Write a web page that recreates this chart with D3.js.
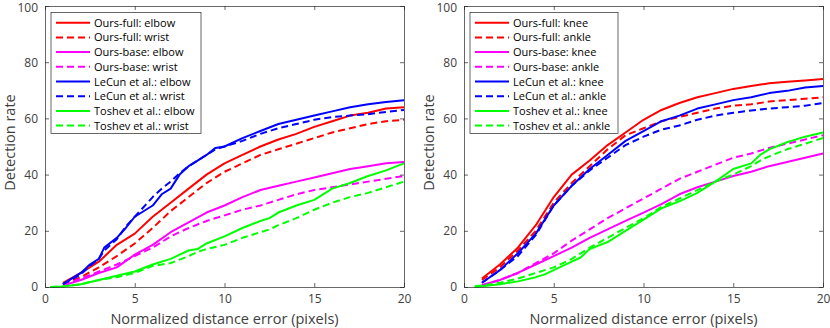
<!DOCTYPE html>
<html>
<head>
<meta charset="utf-8">
<script src="https://cdn.jsdelivr.net/npm/d3@7"></script>
<style>
  body { margin: 0; background: #fff; }
  svg { font-family: "Open Sans", "Liberation Sans", Arial, sans-serif; }
</style>
</head>
<body>
<div id="chart-container"></div>
<script>
// x positions (pixels of error)
let xGrid = [1, 2, 3, 4, 5, 6, 7, 8, 9, 10, 11, 12, 13, 14, 15, 16, 17, 18, 19, 20];
let xGridFine = [1, 2, 2.5, 3, 3.3, 4, 4.5, 5, 6, 6.5, 7, 7.5, 8, 8.5, 9, 9.5, 10, 11, 12, 13, 14, 15, 16, 17, 18, 19, 20];
let xToshevLeft = [0.3, 1, 2, 3, 4, 5, 6, 7, 8, 8.5, 9, 10, 11, 12, 12.5, 13, 14, 15, 16, 17, 18, 19, 20];
let xToshevRight = [0.6, 1, 2, 3, 4, 4.5, 5, 6, 6.5, 7, 8, 9, 10, 11, 12, 13, 14, 15, 16, 16.5, 17, 18, 19, 20];

// left panel: elbow / wrist
let oursFullElbow  = [1.5, 5, 9, 15, 19, 25, 30, 35, 40, 44, 47, 50, 52.5, 54.5, 57, 59, 61, 62, 63.5, 64];
let oursFullWrist  = [1, 3.5, 7, 11, 15.5, 21, 27, 32, 37, 41, 44, 47, 49, 51, 53, 55, 56.5, 58, 59, 59.5];
let oursBaseElbow  = [0.5, 2.5, 5, 7, 11.5, 15, 19.5, 23, 26.5, 29, 32, 34.5, 36, 37.5, 39, 40.5, 42, 43, 44, 44.5];
let oursBaseWrist  = [0.5, 3, 5.5, 8, 11, 14, 18, 21, 23.5, 25.5, 27.5, 29, 31, 33, 34.5, 35.5, 36.5, 37.5, 38.5, 39.5];
let lecunElbow     = [1, 5, 8, 10, 14, 17.5, 21, 25, 29, 33, 35, 40, 43, 45, 47, 49.5, 50, 53, 55.5, 58, 59.5, 61, 62.5, 64, 65, 65.8, 66.5];
let lecunWrist     = [1, 4.5, 7.5, 10, 13, 17, 21.5, 25, 32, 35, 37.5, 40.5, 43, 45, 47, 49, 50, 52, 54.5, 56.5, 58, 59.5, 60.5, 61, 61.5, 62.3, 63];
let toshevElbow    = [0, 0.2, 1, 2.5, 4, 5.5, 8, 10, 13, 13.5, 15.5, 18, 21, 23.5, 24.5, 26.5, 29, 31, 35, 37, 39.5, 41.5, 44];
let toshevWrist    = [0, 0.2, 1, 2.5, 3.5, 5, 7.5, 8.5, 11, 12.5, 13.5, 15, 17.5, 19.5, 20.5, 22, 24.5, 27.5, 30, 32, 33.5, 35.5, 37.5];

// right panel: knee / ankle
let oursFullKnee   = [3, 8, 14, 22, 32, 40, 45, 50.5, 55, 59.5, 63, 65.5, 67.5, 69, 70.5, 71.5, 72.5, 73, 73.5, 74];
let oursFullAnkle  = [2.5, 7, 13, 20, 30, 37, 43, 49, 54, 56.5, 59, 60.5, 62, 63.5, 64.5, 65, 66, 66.5, 67, 67.5];
let oursBaseKnee   = [0.7, 2.5, 5, 8, 11, 14, 17.5, 20.5, 23.5, 26.5, 29.5, 33, 35.5, 37.5, 39.5, 41, 43, 44.5, 46, 47.5];
let oursBaseAnkle  = [0.5, 2.5, 5, 8.5, 12, 16.5, 20.5, 24.5, 28, 31.5, 35, 38.5, 41, 43.5, 46, 47.5, 49.5, 51, 52.5, 54];
let lecunKnee      = [1.5, 6, 12, 19, 29, 36, 42, 47, 52, 55.5, 59, 61, 63.5, 65, 66.5, 67.5, 69, 69.8, 71, 71.5];
let lecunAnkle     = [1.5, 6, 11, 18.5, 29, 36, 41.5, 46, 50.5, 53.5, 56, 57.5, 59.5, 61, 62, 62.8, 63.5, 64, 64.5, 65.5];
let toshevKnee     = [0, 0.3, 1, 2, 3.5, 4.5, 6, 9, 10.5, 13.5, 16, 20, 24, 28, 30.5, 33.5, 37.5, 42, 44, 47, 49, 51.5, 53.5, 55];
let toshevAnkle    = [0.3, 0.5, 1.5, 3, 5, 6, 7, 10, 12, 14, 17.5, 21, 24.5, 28.5, 31.5, 34.5, 37.5, 40, 43, 45, 46.5, 49, 51, 53];

let xTicks = [0, 5, 10, 15, 20];
let yTicks = [0, 20, 40, 60, 80, 100];
let methods = ["Ours-full", "Ours-base", "LeCun et al.", "Toshev et al."];
let methodColors = ["#ff0000", "#ff00ff", "#0000ff", "#00ff00"];
let xLabel = "Normalized distance error (pixels)";
let yLabel = "Detection rate";

let panels = [
    {
        left: 45, jointA: "elbow", jointB: "wrist",
        series: [
            [xGrid, oursFullElbow], [xGrid, oursFullWrist],
            [xGrid, oursBaseElbow], [xGrid, oursBaseWrist],
            [xGridFine, lecunElbow], [xGridFine, lecunWrist],
            [xToshevLeft, toshevElbow], [xToshevLeft, toshevWrist]
        ]
    },
    {
        left: 464, jointA: "knee", jointB: "ankle",
        series: [
            [xGrid, oursFullKnee], [xGrid, oursFullAnkle],
            [xGrid, oursBaseKnee], [xGrid, oursBaseAnkle],
            [xGrid, lecunKnee], [xGrid, lecunAnkle],
            [xToshevRight, toshevKnee], [xToshevRight, toshevAnkle]
        ]
    }
];

let plotW = 359, plotTop = 6, plotH = 281;
let axisColor = "#262626";
let labelColor = "#404040";
let dash = "7,4";

let svg = d3.select("#chart-container")
    .append("svg")
    .attr("width", 830)
    .attr("height", 328);

panels.forEach(function (p) {
    let g = svg.append("g")
        .attr("transform", "translate(" + p.left + "," + plotTop + ")");

    let x = d3.scaleLinear().domain([0, 20]).range([0, plotW]);
    let y = d3.scaleLinear().domain([0, 100]).range([plotH, 0]);

    // lines
    let line = d3.line()
        .x(function (d) { return x(d[0]); })
        .y(function (d) { return y(d[1]); });

    p.series.forEach(function (s, i) {
        let pts = s[0].map(function (xv, k) { return [xv, s[1][k]]; });
        g.append("path")
            .datum(pts)
            .attr("d", line)
            .attr("fill", "none")
            .attr("stroke", methodColors[Math.floor(i / 2)])
            .attr("stroke-width", 2)
            .attr("stroke-linejoin", "round")
            .attr("stroke-dasharray", i % 2 === 1 ? dash : null);
    });

    // axes (ticks inward, box on)
    let axB = g.append("g").attr("transform", "translate(0," + plotH + ")")
        .call(d3.axisBottom(x).tickValues(xTicks).tickSizeInner(-4).tickSizeOuter(0).tickPadding(7));
    let axT = g.append("g")
        .call(d3.axisTop(x).tickValues(xTicks).tickSizeInner(-4).tickSizeOuter(0).tickFormat(""));
    let axL = g.append("g")
        .call(d3.axisLeft(y).tickValues(yTicks).tickSizeInner(-4).tickSizeOuter(0).tickPadding(7));
    let axR = g.append("g").attr("transform", "translate(" + plotW + ",0)")
        .call(d3.axisRight(y).tickValues(yTicks).tickSizeInner(-4).tickSizeOuter(0).tickFormat(""));
    [axB, axT, axL, axR].forEach(function (a) {
        a.selectAll("path").attr("stroke", axisColor).attr("stroke-width", 0.7);
        a.selectAll("line").attr("stroke", axisColor).attr("stroke-width", 0.7);
        a.selectAll("text").attr("fill", labelColor).style("font-size", "12px")
            .style("font-family", "'Open Sans', 'Liberation Sans', Arial, sans-serif");
    });
    // keep the top "100" inside the picture
    axL.selectAll(".tick text").filter(function (d) { return d === 100; }).attr("dy", "0.42em");

    g.append("text")
        .attr("x", plotW / 2)
        .attr("y", plotH + 37)
        .attr("text-anchor", "middle")
        .attr("fill", labelColor)
        .style("font-size", "14.5px")
        .text(xLabel);

    g.append("text")
        .attr("transform", "rotate(-90)")
        .attr("x", -plotH / 2 + 4)
        .attr("y", -30)
        .attr("text-anchor", "middle")
        .attr("fill", labelColor)
        .style("font-size", "14.5px")
        .text(yLabel);

    // legend
    let legW = p.jointA === "elbow" ? 150 : 148;
    let leg = g.append("g").attr("transform", "translate(6,6.5)");
    leg.append("rect")
        .attr("width", legW)
        .attr("height", 121)
        .attr("fill", "#fff")
        .attr("stroke", axisColor)
        .attr("stroke-width", 0.7);
    let labels = [];
    methods.forEach(function (m, k) {
        labels.push({ text: m + ": " + p.jointA, color: methodColors[k], dashed: false });
        labels.push({ text: m + ": " + p.jointB, color: methodColors[k], dashed: true });
    });
    labels.forEach(function (d, k) {
        let cy = 10.2 + k * 14.7;
        leg.append("line")
            .attr("x1", 5).attr("x2", 39)
            .attr("y1", cy).attr("y2", cy)
            .attr("stroke", d.color)
            .attr("stroke-width", 2)
            .attr("stroke-dasharray", d.dashed ? dash : null);
        leg.append("text")
            .attr("x", 43)
            .attr("y", cy + 4)
            .attr("fill", "#000")
            .style("font-size", "11px")
            .text(d.text);
    });
});
</script>
</body>
</html>
